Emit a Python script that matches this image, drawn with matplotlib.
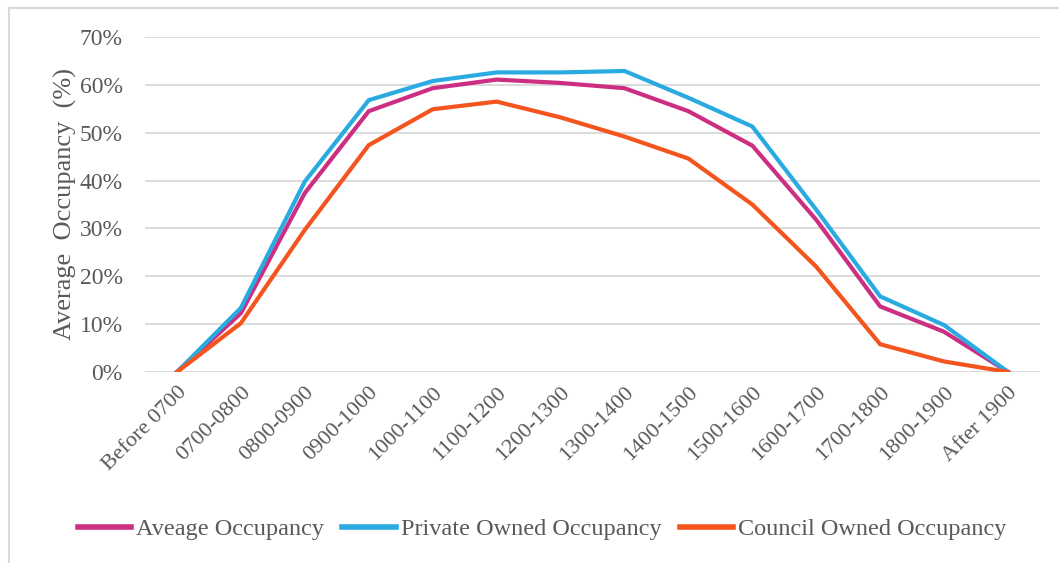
import matplotlib
matplotlib.use("Agg")
import matplotlib.pyplot as plt
from matplotlib.lines import Line2D
from matplotlib.ticker import FuncFormatter

time_slots = ["Before 0700", "0700-0800", "0800-0900", "0900-1000", "1000-1100",
              "1100-1200", "1200-1300", "1300-1400", "1400-1500", "1500-1600",
              "1600-1700", "1700-1800", "1800-1900", "After 1900"]

average_occ = [0, 12.3, 37.4, 54.5, 59.3, 61.1, 60.4, 59.3, 54.5, 47.3, 31.8, 13.7, 8.4, 0]
private_occ = [0, 13.4, 39.8, 56.8, 60.8, 62.6, 62.6, 62.9, 57.3, 51.3, 33.9, 15.8, 9.8, 0]
council_occ = [0, 10.2, 29.7, 47.4, 54.9, 56.5, 53.2, 49.2, 44.6, 35.0, 22.0, 5.8, 2.2, 0]

series_names = ["Aveage Occupancy", "Private Owned Occupancy", "Council Owned Occupancy"]
series_colors = ["#CC2E82", "#29AAE1", "#F4541E"]

plt.rcParams["font.family"] = ["Liberation Serif", "DejaVu Serif"]

fig = plt.figure(figsize=(10.59, 5.63), dpi=100)
W, H = 1059, 563
ax = fig.add_axes([145 / W, 1 - 372 / H, (1040 - 145) / W, (372 - 37) / H])

x = list(range(len(time_slots)))
for vals, color in zip([average_occ, private_occ, council_occ], series_colors):
    ax.plot(x, vals, color=color, lw=3.0, solid_joinstyle="miter", zorder=3)

ax.set_xlim(-0.5, len(time_slots) - 0.5)
ax.set_ylim(0, 70)
ax.set_yticks(range(0, 71, 10))
ax.yaxis.set_major_formatter(FuncFormatter(lambda v, p: f"{int(v)}%"))
ax.grid(axis="y", color="#D9D9D9", lw=1.3, zorder=0)
ax.set_axisbelow(True)
for s in ax.spines.values():
    s.set_visible(False)
ax.tick_params(axis="both", length=0, colors="#595959")
ax.tick_params(axis="y", pad=16, labelsize=17)
ax.set_xticks(x)
ax.set_xticklabels(time_slots, rotation=45, ha="right", rotation_mode="anchor")
ax.tick_params(axis="x", pad=8, labelsize=16)

ax.set_ylabel("Average  Occupancy  (%)", fontsize=19, color="#595959", labelpad=2)

handles = [Line2D([0], [0], color=c, lw=4) for c in series_colors]
fig.legend(handles, series_names, loc="center", bbox_to_anchor=(542 / W, 1 - 529 / H),
           ncol=3, frameon=False, fontsize=17.5, labelcolor="#595959",
           handlelength=2.2, handletextpad=0.2, columnspacing=0.75)

# light frame along the left and top edges
fig.add_artist(Line2D([9 / W, 9 / W], [0, 1 - 8 / H], color="#D9D9D9", lw=1.5,
                      transform=fig.transFigure))
fig.add_artist(Line2D([9 / W, 1], [1 - 8 / H, 1 - 8 / H], color="#D9D9D9", lw=1.5,
                      transform=fig.transFigure))

fig.savefig("out.png", dpi=100)
